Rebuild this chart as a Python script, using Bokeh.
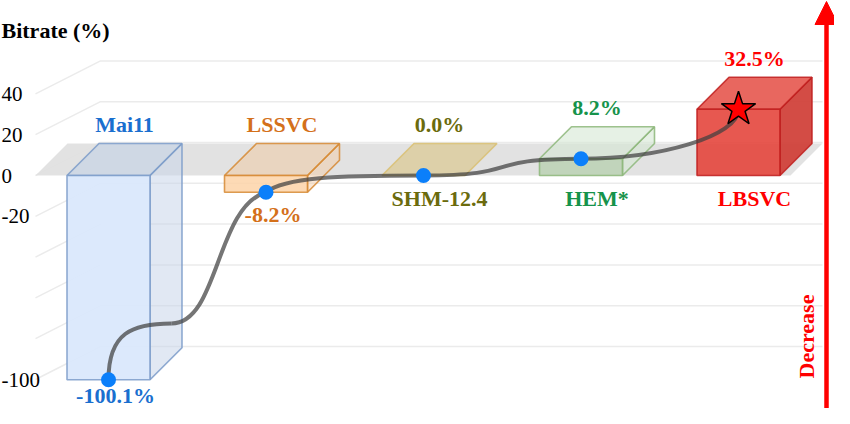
import math
from bokeh.plotting import figure
from bokeh.models import Range1d, Arrow, NormalHead
from bokeh.core.properties import value
from bokeh.embed import file_html
from bokeh.resources import INLINE

# ---------------- data ----------------
categories = ["Mai11", "LSSVC", "SHM-12.4", "HEM*", "LBSVC"]
bitrate = [-100.1, -8.2, 0.0, 8.2, 32.5]
value_labels = ["-100.1%", "-8.2%", "0.0%", "8.2%", "32.5%"]
tick_values = [40, 20, 0, -20, -100]
tick_labels = ["40", "20", "0", "-20", "-100"]
grid_values = [40, 20, 0, -20, -40, -60, -80, -100]
y_title = "Bitrate (%)"
arrow_label = "Decrease"

# ---------------- layout (pixels inside the frame) ----------------
W, H = 834, 408
STEP = 157.5      # px between category centres
C0 = 108.0        # px of first category centre from frame left
ZERO = 175.0      # px of value 0 from frame top
S = 2.04          # px per percent


def fx(px):
    return (px - C0) / STEP


def fy(py):
    return (ZERO - py) / S


def dx(px):
    return px / STEP


def dy(px):
    return px / S


HW = dx(41.5)            # half bar width
DX, DY = dx(32), dy(32)  # depth offset of boxes / floor
WALL_X0, WALL_DX, WALL_X1, WALL_DY = fx(35), dx(65), fx(822), dy(33)

FONT = value("Liberation Serif")

styles = [
    dict(front="#dae8fc", fa=0.95, top="#b9cbe6", ta=0.45, side="#c9d5ea", sa=0.55, line="#7b9bc9", text="#1a6fcf"),
    dict(front="#fdd3a8", fa=0.85, top="#f5c38f", ta=0.40, side="#f3c9a0", sa=0.45, line="#d68a34", text="#d4701a"),
    dict(front="#d6b656", fa=0.40, top="#d6b656", ta=0.40, side="#d6b656", sa=0.40, line="#d9bf72", text="#6b6b0d"),
    dict(front="#b3ceab", fa=0.70, top="#d5e8d4", ta=0.60, side="#d5e8d4", sa=0.60, line="#8db77a", text="#16934b"),
    dict(front="#e4463d", fa=0.90, top="#e65a51", ta=0.92, side="#cf3d35", sa=0.92, line="#bf1f1f", text="#ff0000"),
]

p = figure(width=W, height=H, x_range=Range1d(fx(0), fx(W)), y_range=Range1d(fy(H), fy(0)),
           output_backend="svg", toolbar_location=None, min_border=0)
p.axis.visible = False
p.grid.visible = False
p.outline_line_color = None
p.background_fill_color = "white"
p.border_fill_color = "white"

# ---------------- back wall grid lines ----------------
gxs, gys = [], []
for g in grid_values:
    gxs.append([WALL_X0, WALL_X0 + WALL_DX, WALL_X1])
    gys.append([g, g + WALL_DY, g + WALL_DY])
p.multi_line(gxs, gys, line_color="#ebebeb", line_width=1.5)

# ---------------- floor at 0 ----------------
fl_x0, fl_x1 = fx(35), fx(790)
p.patch([fl_x0, fl_x1, fl_x1 + DX, fl_x0 + DX], [0, 0, DY, DY],
        fill_color="#e0e0e0", fill_alpha=0.95, line_color=None)

# ---------------- 3D boxes ----------------
xs, ys, fc, fa, lc = [], [], [], [], []
for i, v in enumerate(bitrate):
    st = styles[i]
    lo, hi = min(v, 0), max(v, 0)
    c = i
    if hi > lo:  # side face
        xs.append([c + HW, c + HW + DX, c + HW + DX, c + HW])
        ys.append([lo, lo + DY, hi + DY, hi])
        fc.append(st["side"]); fa.append(st["sa"]); lc.append(st["line"])
    # top face
    xs.append([c - HW, c + HW, c + HW + DX, c - HW + DX])
    ys.append([hi, hi, hi + DY, hi + DY])
    fc.append(st["top"]); fa.append(st["ta"]); lc.append(st["line"])
    if hi > lo:  # front face
        xs.append([c - HW, c + HW, c + HW, c - HW])
        ys.append([lo, lo, hi, hi])
        fc.append(st["front"]); fa.append(st["fa"]); lc.append(st["line"])
p.patches(xs, ys, fill_color=fc, fill_alpha=fa, line_color=lc, line_width=1.6, line_alpha=0.85)

# ---------------- labels ----------------
tx, ty, tt, tc = [], [], [], []
lowest_label = fy(H - 13)
for i, v in enumerate(bitrate):
    st = styles[i]
    hi, lo = max(v, 0), min(v, 0)
    if v < 0:
        tx.append(i + DX / 2); ty.append(DY + dy(19)); tt.append(categories[i]); tc.append(st["text"])
        tx.append(i + dx(7)); ty.append(max(lo - dy(22), lowest_label)); tt.append(value_labels[i]); tc.append(st["text"])
    else:
        tx.append(i + DX / 2); ty.append(-dy(23)); tt.append(categories[i]); tc.append(st["text"])
        tx.append(i + DX / 2); ty.append(hi + DY + dy(19)); tt.append(value_labels[i]); tc.append(st["text"])
p.text(tx, ty, text=tt, text_color=tc, text_font=FONT, text_font_style="bold",
       text_font_size="22px", text_align="center", text_baseline="middle")

# tick labels
p.text([fx(1)] * len(tick_values), tick_values, text=tick_labels, text_color="black",
       text_font=FONT, text_font_size="21px", text_align="left", text_baseline="middle")
# axis title
p.text([fx(1)], [fy(30)], text=[y_title], text_color="black", text_font=FONT,
       text_font_style="bold", text_font_size="22px", text_align="left", text_baseline="middle")

# ---------------- connecting curve ----------------
pieces = [
    [(0.4, 0.3, 0.0, 0.25, 0.15, 0.3), (1.0, 1.0, 0.7, 0.3, 0.68, 0.92)],
    [(1.0, 1.0, 0.12, 0.9, 0.45, 1.0)],
    [(1.0, 1.0, 0.65, 0.0, 0.35, 1.0)],
    [(1.0, 1.0, 0.5, 0.0, 1.0, 0.45)],
]
bx0, by0, bx1, by1, bcx0, bcy0, bcx1, bcy1 = ([] for _ in range(8))
for s in range(len(bitrate) - 1):
    x0, y0 = s, bitrate[s]
    ddx, ddy = 1.0, bitrate[s + 1] - bitrate[s]
    sx, sy = x0, y0
    for (ex, ey, c1x, c1y, c2x, c2y) in pieces[s]:
        bx0.append(sx); by0.append(sy)
        bx1.append(x0 + ex * ddx); by1.append(y0 + ey * ddy)
        bcx0.append(x0 + c1x * ddx); bcy0.append(y0 + c1y * ddy)
        bcx1.append(x0 + c2x * ddx); bcy1.append(y0 + c2y * ddy)
        sx, sy = x0 + ex * ddx, y0 + ey * ddy
p.bezier(x0=bx0, y0=by0, x1=bx1, y1=by1, cx0=bcx0, cy0=bcy0, cx1=bcx1, cy1=bcy1,
         line_color="#404040", line_alpha=0.72, line_width=4)

# points
p.scatter(list(range(len(bitrate) - 1)), bitrate[:-1], marker="circle", size=15,
          fill_color="#0b7ffa", line_color=None)
p.scatter([len(bitrate) - 1], [bitrate[-1]], marker="star", size=36,
          fill_color="#ff0000", line_color="black", line_width=1.5)

# ---------------- decrease arrow ----------------
p.add_layout(Arrow(end=NormalHead(size=23, fill_color="#ff0000", line_color="#ff0000"),
                   x_start=fx(826), y_start=fy(H + 10), x_end=fx(826), y_end=fy(1),
                   line_color="#ff0000", line_width=4.5))
p.text([fx(806)], [fy(336)], text=[arrow_label], angle=math.pi / 2, text_color="#ff0000",
       text_font=FONT, text_font_style="bold", text_font_size="22px",
       text_align="center", text_baseline="middle")

open("out.html", "w").write(file_html(p, INLINE))
